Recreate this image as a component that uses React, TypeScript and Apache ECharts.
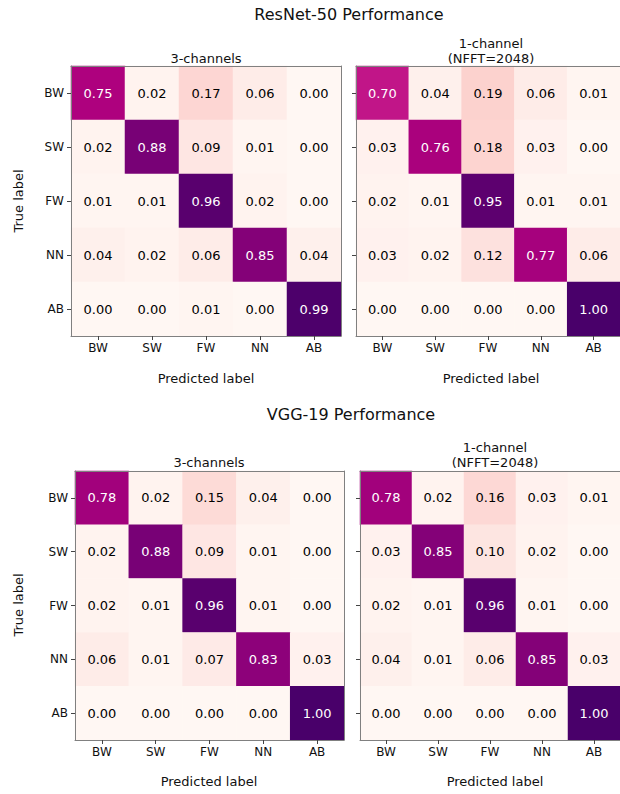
import React, { useEffect, useRef } from "react";
import * as echarts from "echarts";

const CATEGORIES = ["BW", "SW", "FW", "NN", "AB"];

const RESNET_3CH = [
  [0.75, 0.02, 0.17, 0.06, 0.0],
  [0.02, 0.88, 0.09, 0.01, 0.0],
  [0.01, 0.01, 0.96, 0.02, 0.0],
  [0.04, 0.02, 0.06, 0.85, 0.04],
  [0.0, 0.0, 0.01, 0.0, 0.99],
];
const RESNET_1CH = [
  [0.7, 0.04, 0.19, 0.06, 0.01],
  [0.03, 0.76, 0.18, 0.03, 0.0],
  [0.02, 0.01, 0.95, 0.01, 0.01],
  [0.03, 0.02, 0.12, 0.77, 0.06],
  [0.0, 0.0, 0.0, 0.0, 1.0],
];
const VGG_3CH = [
  [0.78, 0.02, 0.15, 0.04, 0.0],
  [0.02, 0.88, 0.09, 0.01, 0.0],
  [0.02, 0.01, 0.96, 0.01, 0.0],
  [0.06, 0.01, 0.07, 0.83, 0.03],
  [0.0, 0.0, 0.0, 0.0, 1.0],
];
const VGG_1CH = [
  [0.78, 0.02, 0.16, 0.03, 0.01],
  [0.03, 0.85, 0.1, 0.02, 0.0],
  [0.02, 0.01, 0.96, 0.01, 0.0],
  [0.04, 0.01, 0.06, 0.85, 0.03],
  [0.0, 0.0, 0.0, 0.0, 1.0],
];

const MAIN_TITLES = ["ResNet-50 Performance", "VGG-19 Performance"];
const SUB_TITLES = ["3-channels", "1-channel\n(NFFT=2048)"];
const X_LABEL = "Predicted label";
const Y_LABEL = "True label";

const RDPU = [
  "#fff7f3",
  "#fde0dd",
  "#fcc5c0",
  "#fa9fb5",
  "#f768a1",
  "#dd3497",
  "#ae017e",
  "#7a0177",
  "#49006a",
];

const FONT = "DejaVu Sans";

export default function App() {
  const ref = useRef<HTMLDivElement>(null);

  useEffect(() => {
    if (!ref.current) return;
    const chart = echarts.init(ref.current, undefined, { renderer: "svg" });

    const matrices = [RESNET_3CH, RESNET_1CH, VGG_3CH, VGG_1CH];
    const grids = [
      { left: 71, top: 66, width: 270, height: 270 },
      { left: 356, top: 66, width: 270, height: 270 },
      { left: 75, top: 471, width: 269, height: 269 },
      { left: 360, top: 471, width: 270, height: 269 },
    ];

    const xAxes: any[] = [];
    const yAxes: any[] = [];
    grids.forEach((_, i) => {
      xAxes.push({
        type: "category",
        gridIndex: i,
        data: CATEGORIES,
        position: "bottom",
        z: 5,
        axisLine: { show: true, lineStyle: { color: "#808080", width: 1 } },
        axisTick: { show: true, alignWithLabel: true, length: 4, lineStyle: { color: "#444" } },
        axisLabel: { show: true, margin: 6, fontSize: 12, fontFamily: FONT, color: "#111" },
        splitLine: { show: false },
      });
      yAxes.push({
        type: "category",
        gridIndex: i,
        data: CATEGORIES,
        inverse: true,
        position: "left",
        z: 5,
        axisLine: { show: true, lineStyle: { color: "#808080", width: 1 } },
        axisTick: { show: true, alignWithLabel: true, length: 4, lineStyle: { color: "#444" } },
        axisLabel: { show: i % 2 === 0, margin: 7, fontSize: 12, fontFamily: FONT, color: "#111" },
        splitLine: { show: false },
      });
    });
    grids.forEach((_, i) => {
      xAxes.push({
        type: "category",
        gridIndex: i,
        data: CATEGORIES,
        position: "top",
        z: 5,
        axisLine: { show: true, lineStyle: { color: "#808080", width: 1 } },
        axisTick: { show: false },
        axisLabel: { show: false },
        splitLine: { show: false },
      });
      yAxes.push({
        type: "category",
        gridIndex: i,
        data: CATEGORIES,
        inverse: true,
        position: "right",
        z: 5,
        axisLine: { show: true, lineStyle: { color: "#808080", width: 1 } },
        axisTick: { show: false },
        axisLabel: { show: false },
        splitLine: { show: false },
      });
    });

    const series = matrices.map((m, i) => {
      const data: any[] = [];
      m.forEach((row, r) => {
        row.forEach((v, c) => {
          data.push({
            value: [c, r, v],
            label: { color: v > 0.5 ? "#ffffff" : "#000000" },
          });
        });
      });
      return {
        type: "heatmap",
        xAxisIndex: i,
        yAxisIndex: i,
        data,
        label: {
          show: true,
          fontSize: 13,
          fontFamily: FONT,
          formatter: (p: any) => (p.value[2] as number).toFixed(2),
        },
        emphasis: { disabled: true },
        itemStyle: { borderWidth: 0 },
      };
    });

    const txt = (text: string, x: number, y: number, size: number, extra: any = {}) => ({
      type: "text",
      x,
      y,
      ...extra,
      style: {
        text,
        fontSize: size,
        fontFamily: FONT,
        fill: "#111",
        align: "center",
        verticalAlign: "middle",
        lineHeight: size + 2,
      },
    });

    const graphic = [
      txt(MAIN_TITLES[0], 349, 14, 16),
      txt(MAIN_TITLES[1], 351, 414, 16),
      txt(SUB_TITLES[0], 206, 58, 13),
      txt(SUB_TITLES[1], 491, 51, 13),
      txt(SUB_TITLES[0], 209, 462, 13),
      txt(SUB_TITLES[1], 495, 455, 13),
      txt(X_LABEL, 206, 378, 13),
      txt(X_LABEL, 491, 378, 13),
      txt(X_LABEL, 209, 781, 13),
      txt(X_LABEL, 495, 781, 13),
      txt(Y_LABEL, 18, 201, 13, { rotation: Math.PI / 2 }),
      txt(Y_LABEL, 18, 605, 13, { rotation: Math.PI / 2 }),
    ];

    chart.setOption({
      animation: false,
      backgroundColor: "#ffffff",
      grid: grids.map((g) => ({ ...g, containLabel: false })),
      xAxis: xAxes,
      yAxis: yAxes,
      visualMap: {
        type: "continuous",
        show: false,
        min: 0,
        max: 1,
        dimension: 2,
        seriesIndex: [0, 1, 2, 3],
        inRange: { color: RDPU },
      },
      series,
      graphic,
    });

    return () => chart.dispose();
  }, []);

  return (
    <div
      ref={ref}
      style={{ position: "absolute", left: 0, top: 0, width: 620, height: 794, overflow: "hidden" }}
    />
  );
}
